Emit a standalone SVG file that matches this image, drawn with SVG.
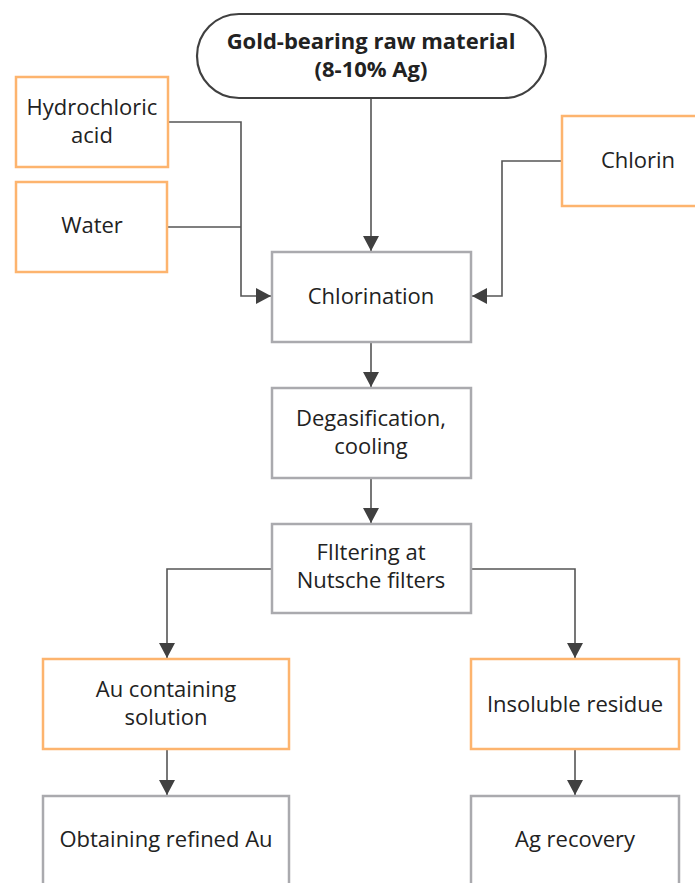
<svg xmlns="http://www.w3.org/2000/svg" width="695" height="883" viewBox="0 0 695 883">
  <style>
    text { font-family: "Open Sans", "Noto Sans", "Liberation Sans", sans-serif; font-size: 22px; fill: #222; text-anchor: middle; }
    .bold { font-weight: bold; }
    .input { fill: #fff; stroke: #FDB46E; stroke-width: 2.5; }
    .step { fill: #fff; stroke: #AAAAAE; stroke-width: 2.5; }
    .start { fill: #fff; stroke: #404040; stroke-width: 2.2; }
    .conn { fill: none; stroke: #555; stroke-width: 1.6; }
  </style>
  <defs>
    <marker id="arrow" markerUnits="userSpaceOnUse" markerWidth="16" markerHeight="16" viewBox="0 0 16 16" refX="15" refY="8" orient="auto">
      <path d="M0,0 L15,8 L0,16 Z" fill="#404040"/>
    </marker>
  </defs>

  <!-- connectors -->
  <g id="connectors">
    <polyline class="conn" points="371,98 371,251" marker-end="url(#arrow)"/>
    <polyline class="conn" points="168,122 241,122 241,296 271,296" marker-end="url(#arrow)"/>
    <polyline class="conn" points="167,227 241,227"/>
    <polyline class="conn" points="562,161 502,161 502,296 472,296" marker-end="url(#arrow)"/>
    <polyline class="conn" points="371,342 371,387" marker-end="url(#arrow)"/>
    <polyline class="conn" points="371,478 371,523" marker-end="url(#arrow)"/>
    <polyline class="conn" points="272,569 167,569 167,658" marker-end="url(#arrow)"/>
    <polyline class="conn" points="471,569 575,569 575,658" marker-end="url(#arrow)"/>
    <polyline class="conn" points="167,749 167,795" marker-end="url(#arrow)"/>
    <polyline class="conn" points="575,749 575,795" marker-end="url(#arrow)"/>
  </g>

  <g id="raw-material">
    <rect class="start" x="197" y="14" width="349" height="84" rx="42" ry="42"/>
    <text class="bold" x="371" y="49">Gold-bearing raw material</text>
    <text class="bold" x="371" y="77">(8-10% Ag)</text>
  </g>

  <g id="hydrochloric-acid">
    <rect class="input" x="16" y="77" width="152" height="90"/>
    <text x="92" y="115">Hydrochloric</text>
    <text x="92" y="143">acid</text>
  </g>

  <g id="water">
    <rect class="input" x="16" y="182" width="151" height="90"/>
    <text x="92" y="233">Water</text>
  </g>

  <g id="chlorin">
    <rect class="input" x="562" y="116" width="152" height="90"/>
    <text x="638" y="168">Chlorin</text>
  </g>

  <g id="chlorination">
    <rect class="step" x="272" y="252" width="199" height="90"/>
    <text x="371" y="304">Chlorination</text>
  </g>

  <g id="degasification">
    <rect class="step" x="272" y="388" width="199" height="90"/>
    <text x="371" y="426">Degasification,</text>
    <text x="371" y="454">cooling</text>
  </g>

  <g id="filtering">
    <rect class="step" x="272" y="524" width="199" height="89"/>
    <text x="371" y="560">FIltering at</text>
    <text x="371" y="588">Nutsche filters</text>
  </g>

  <g id="au-solution">
    <rect class="input" x="43" y="659" width="246" height="90"/>
    <text x="166" y="697">Au containing</text>
    <text x="166" y="725">solution</text>
  </g>

  <g id="insoluble-residue">
    <rect class="input" x="471" y="659" width="208" height="90"/>
    <text x="575" y="712">Insoluble residue</text>
  </g>

  <g id="refined-au">
    <rect class="step" x="43" y="796" width="246" height="100"/>
    <text x="166" y="847">Obtaining refined Au</text>
  </g>

  <g id="ag-recovery">
    <rect class="step" x="471" y="796" width="208" height="100"/>
    <text x="575" y="847">Ag recovery</text>
  </g>
</svg>
